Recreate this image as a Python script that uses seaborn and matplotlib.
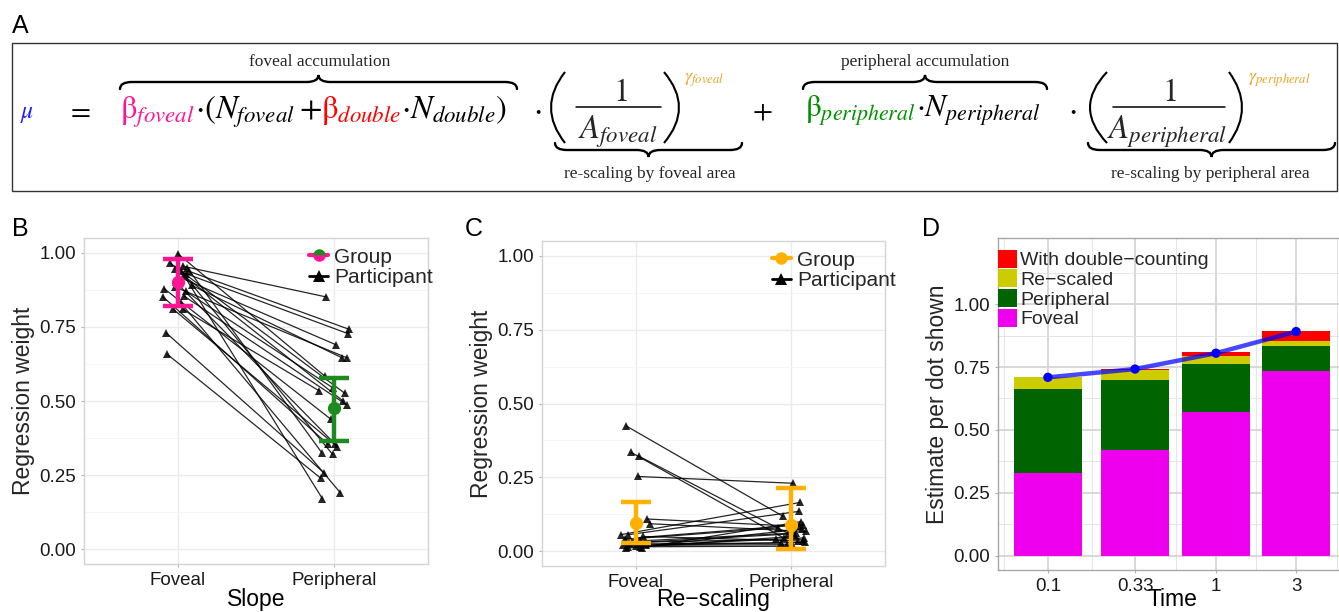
import numpy as np
import pandas as pd
import seaborn as sns
import matplotlib
matplotlib.use('Agg')
import matplotlib.pyplot as plt
from matplotlib.lines import Line2D
from matplotlib.patches import Rectangle, Patch, PathPatch
from matplotlib.path import Path
from matplotlib.ticker import FixedLocator, NullFormatter

# ---------------- data ----------------
conditions = ['Foveal', 'Peripheral']

# panel B: slopes per participant
slope_fov = [0.955, 0.938, 0.93, 0.92, 0.89, 0.885, 0.997, 0.81, 0.966, 0.947, 0.854,
             0.879, 0.852, 0.81, 0.95, 0.925, 0.90, 0.73, 0.657, 0.83, 0.94, 0.87]
slope_per = [0.851, 0.742, 0.727, 0.69, 0.645, 0.645, 0.584, 0.534, 0.526, 0.50, 0.487,
             0.438, 0.354, 0.346, 0.326, 0.32, 0.355, 0.258, 0.24, 0.19, 0.17, 0.545]
slope_fov_jit = [0.03, 0.07, 0.05, 0.0, 0.09, -0.02, 0.0, 0.03, -0.05, -0.02, 0.04,
                 -0.087, -0.096, -0.03, 0.06, 0.04, -0.01, -0.075, -0.066, 0.02, 0.02, 0.05]
slope_per_jit = [-0.05, 0.095, 0.09, 0.01, 0.053, 0.085, -0.06, -0.095, 0.068, 0.057, 0.08,
                 -0.02, -0.04, 0.02, -0.08, -0.01, 0.005, -0.066, -0.087, 0.04, -0.075, -0.01]
slope_mean = [0.90, 0.475]
slope_lo = [0.82, 0.365]
slope_hi = [0.98, 0.578]

# panel C: re-scaling per participant
resc_fov = [0.424, 0.335, 0.322, 0.253, 0.109, 0.093, 0.056, 0.056, 0.045, 0.04, 0.035,
            0.03, 0.025, 0.02, 0.015, 0.015, 0.01, 0.02, 0.012, 0.028, 0.05, 0.018]
resc_per = [0.118, 0.045, 0.034, 0.23, 0.084, 0.067, 0.165, 0.135, 0.09, 0.079, 0.062,
            0.04, 0.028, 0.022, 0.017, 0.05, 0.075, 0.03, 0.10, 0.058, 0.035, 0.045]
resc_fov_jit = [-0.06, -0.03, 0.02, 0.015, 0.075, 0.095, -0.095, -0.047, 0.0, -0.07, 0.03,
                -0.02, 0.06, -0.08, -0.05, 0.03, -0.06, 0.07, 0.04, -0.04, 0.05, 0.0]
resc_per_jit = [-0.053, -0.05, 0.075, 0.01, 0.05, 0.096, 0.053, 0.05, 0.075, -0.085, 0.03,
                -0.1, -0.07, -0.03, 0.01, 0.02, 0.07, 0.09, 0.06, -0.02, 0.04, 0.08]
resc_mean = [0.095, 0.09]
resc_lo = [0.028, 0.008]
resc_hi = [0.168, 0.213]

# panel D: estimate per dot shown
times = [0.1, 0.33, 1, 3]
time_labels = ['0.1', '0.33', '1', '3']
part_foveal = [0.328, 0.421, 0.570, 0.735]
part_peripheral = [0.334, 0.278, 0.193, 0.097]
part_rescaled = [0.047, 0.040, 0.032, 0.022]
part_double = [0.002, 0.003, 0.013, 0.040]
model_estimate = [0.709, 0.742, 0.805, 0.891]

PINK = '#ff1493'
GREEN = '#1e8b1e'
ORANGE = '#ffb000'
GAMMA = '#e8a020'

# ---------------- style ----------------
sns.set_theme(style='whitegrid')
plt.rcParams['font.family'] = ['Liberation Sans', 'DejaVu Sans']
plt.rcParams['mathtext.fontset'] = 'stix'

W, H = 1339, 612
fig = plt.figure(figsize=(W / 100, H / 100), dpi=100)
over = fig.add_axes([0, 0, 1, 1], zorder=-1)
over.set_xlim(0, W)
over.set_ylim(H, 0)
over.axis('off')


def px_axes(l, t, r, b):
    return fig.add_axes([l / W, (H - b) / H, (r - l) / W, (b - t) / H])


def style_panel(ax, grid_major='#ebebeb', grid_minor='#f5f5f5', spine='#d4d4d4'):
    ax.set_facecolor('white')
    for s in ax.spines.values():
        s.set_color(spine)
        s.set_linewidth(1.0)
    ax.grid(True, which='major', color=grid_major, lw=1.0)
    ax.grid(True, which='minor', color=grid_minor, lw=0.6)
    ax.tick_params(which='major', length=2.5, width=0.8, color='#b3b3b3',
                   labelsize=13.5, labelcolor='#1a1a1a', pad=3, bottom=True, left=True)
    ax.tick_params(which='minor', length=0, bottom=False, left=False)
    ax.set_axisbelow(True)


def bottom_title(ax, text):
    # axis title sits right at the lower edge of the figure, as in the source
    ax.set_xlabel('')
    pos = ax.get_position()
    over.text((pos.x0 + pos.width / 2) * W, 611, text, fontsize=16.5,
              ha='center', va='bottom', color='black')


def participant_panel(ax, fov, per, fj, pj, mean, lo, hi, cols, xlabel):
    n = len(fov)
    df = pd.DataFrame({
        'pid': list(range(n)) * 2,
        'x': [0 + j for j in fj] + [1 + j for j in pj],
        'value': list(fov) + list(per),
    })
    sns.lineplot(data=df, x='x', y='value', units='pid', estimator=None, sort=False,
                 color='black', lw=0.9, alpha=0.85, marker='^', markersize=5.5,
                 markeredgewidth=0, ax=ax, legend=False)
    for i in range(2):
        ax.errorbar([i], [mean[i]], yerr=[[mean[i] - lo[i]], [hi[i] - mean[i]]],
                    fmt='o', color=cols[i], ms=8.5, elinewidth=3.2, capsize=11,
                    capthick=3.2, zorder=5)
    ax.set_xlim(-0.6, 1.6)
    ax.set_ylim(-0.05, 1.05)
    ax.set_xticks([0, 1])
    ax.set_xticklabels(conditions)
    ax.set_yticks([0, 0.25, 0.5, 0.75, 1.0])
    ax.set_yticklabels(['0.00', '0.25', '0.50', '0.75', '1.00'])
    ax.yaxis.set_minor_locator(FixedLocator([0.125, 0.375, 0.625, 0.875]))
    ax.set_ylabel('Regression weight', fontsize=16.5, labelpad=3)
    style_panel(ax)
    bottom_title(ax, xlabel)


# ---------------- panel B ----------------
axB = px_axes(84, 238, 428, 564)
participant_panel(axB, slope_fov, slope_per, slope_fov_jit, slope_per_jit,
                  slope_mean, slope_lo, slope_hi, [PINK, GREEN], 'Slope')
hB = [Line2D([], [], color=PINK, lw=3, marker='o', ms=9, markeredgewidth=0,
             markerfacecolor=GREEN, markerfacecoloralt=PINK, fillstyle='top'),
      Line2D([], [], color='black', lw=2, marker='^', ms=9, markeredgewidth=0)]
axB.legend(hB, ['Group', 'Participant'], loc='upper left', bbox_to_anchor=(0.655, 0.97),
           frameon=False, fontsize=15, handlelength=0.9, handletextpad=0.3,
           labelspacing=0.05, borderpad=0, borderaxespad=0)

# ---------------- panel C ----------------
axC = px_axes(542, 241, 885, 566)
participant_panel(axC, resc_fov, resc_per, resc_fov_jit, resc_per_jit,
                  resc_mean, resc_lo, resc_hi, [ORANGE, ORANGE], 'Re\u2212scaling')
hC = [Line2D([], [], color=ORANGE, lw=3, marker='o', ms=9, markeredgewidth=0),
      Line2D([], [], color='black', lw=2, marker='^', ms=9, markeredgewidth=0)]
axC.legend(hC, ['Group', 'Participant'], loc='upper left', bbox_to_anchor=(0.67, 0.97),
           frameon=False, fontsize=15, handlelength=0.9, handletextpad=0.3,
           labelspacing=0.05, borderpad=0, borderaxespad=0)

# ---------------- panel D ----------------
axD = px_axes(998, 238, 1346, 570)
axD.set_xscale('log')
t = np.array(times, dtype=float)
hw = 0.2025
left = t * 10 ** (-hw)
width = t * (10 ** hw - 10 ** (-hw))
bottom = np.zeros(len(t))
layers = [(part_foveal, '#ee00ee', 'Foveal'),
          (part_peripheral, '#006400', 'Peripheral'),
          (part_rescaled, '#cccc00', 'Re\u2212scaled'),
          (part_double, '#ff0000', 'With double\u2212counting')]
for vals, col, lab in layers:
    axD.bar(left, vals, width=width, bottom=bottom, align='edge', color=col, lw=0)
    bottom = bottom + np.array(vals)
dD = pd.DataFrame({'time': times, 'est': model_estimate})
sns.lineplot(data=dD, x='time', y='est', color='#0000ff', lw=3.2, alpha=0.72, ax=axD)
sns.scatterplot(data=dD, x='time', y='est', color='#0000ff', s=45, edgecolor='none',
                ax=axD, zorder=6)
axD.set_xlim(10 ** -1.297, 10 ** 0.774)
axD.set_ylim(-0.057, 1.263)
axD.set_xticks(times)
axD.set_xticklabels(time_labels)
axD.xaxis.set_minor_locator(FixedLocator([10 ** v for v in [-1.26, -0.74, -0.24, 0.24, 0.72]]))
axD.xaxis.set_minor_formatter(NullFormatter())
axD.set_yticks([0, 0.25, 0.5, 0.75, 1.0])
axD.set_yticklabels(['0.00', '0.25', '0.50', '0.75', '1.00'])
axD.yaxis.set_minor_locator(FixedLocator([0.125, 0.375, 0.625, 0.875, 1.125]))
style_panel(axD, grid_major='#d6d6d6', grid_minor='#e0e0e0', spine='#a8a8a8')
axD.grid(True, which='major', color='#d6d6d6', lw=1.3)
axD.set_xlabel('')
axD.set_ylabel('Estimate per dot shown', fontsize=16.5, labelpad=3)
over.text(1172, 611, 'Time', fontsize=16.5, ha='center', va='bottom', color='black')
hD = [Patch(facecolor=c, edgecolor='none') for _, c, _ in layers][::-1]
axD.legend(hD, [l for _, _, l in layers][::-1], loc='upper left', bbox_to_anchor=(0.0, 0.965),
           frameon=False, fontsize=14, handlelength=1.0, handleheight=1.05,
           handletextpad=0.15, labelspacing=0.0, borderpad=0, borderaxespad=0)

# ---------------- panel letters ----------------
for lab, x, y in [('A', 12, 26), ('B', 12, 229), ('C', 465, 229), ('D', 922, 229)]:
    over.text(x, y, lab, fontsize=18, ha='left', va='center', color='black')

# ---------------- panel A: equation ----------------
over.add_patch(Rectangle((12, 43), 1325, 148, fill=False, edgecolor='#333333', lw=1.0))
renderer = fig.canvas.get_renderer()


def flow(x, y, pieces, size):
    for s, c in pieces:
        tx = over.text(x, y, s, color=c, fontsize=size, ha='left', va='baseline')
        x += tx.get_window_extent(renderer=renderer).width
    return x


def brace(x0, x1, y, up=True, h=7, q=12):
    s = -1 if up else 1
    xm = (x0 + x1) / 2
    verts = [(x0, y - s * h), (x0, y), (x0 + q, y), (xm - q, y), (xm, y), (xm, y + s * h),
             (xm, y), (xm + q, y), (x1 - q, y), (x1, y), (x1, y - s * h)]
    codes = [Path.MOVETO, Path.CURVE3, Path.CURVE3, Path.LINETO, Path.CURVE3, Path.CURVE3,
             Path.CURVE3, Path.CURVE3, Path.LINETO, Path.CURVE3, Path.CURVE3]
    over.add_patch(PathPatch(Path(verts, codes), fill=False, lw=1.7, edgecolor='black',
                             capstyle='round'))


def paren(x_end, x_mid, top=72, bot=143):
    c = 2 * x_mid - x_end
    verts = [(x_end, top), (c, (top + bot) / 2), (x_end, bot)]
    over.add_patch(PathPatch(Path(verts, [Path.MOVETO, Path.CURVE3, Path.CURVE3]),
                             fill=False, lw=1.5, edgecolor='black'))


def fraction(lp, rp, bar0, bar1, num_x, den_x, den):
    paren(*lp)
    paren(*rp)
    over.text(num_x, 101, r'$1$', fontsize=EQ, ha='center', va='baseline')
    over.plot([bar0, bar1], [107, 107], color='black', lw=1.1)
    over.text(den_x, 138, den, fontsize=EQ, ha='center', va='baseline')


serif = 'Liberation Serif'
EQ = 23.5
base = 118
flow(20, base, [(r'$\mu$', '#1a1aff')], 17)
flow(66, base, [(r'$=$', 'black')], 21)
flow(120, base, [(r'$\mathrm{\beta}_{foveal}$', PINK), (r'$\cdot(N_{foveal}+$', 'black'),
                 (r'$\mathrm{\beta}_{double}$', '#ff0000'), (r'$\cdot N_{double})$', 'black')], EQ)
flow(533, base, [(r'$\cdot$', 'black')], EQ)
fraction((565, 551), (664, 679), 576, 661, 620, 618, r'$A_{foveal}$')
over.text(684, 80, r'$\gamma_{foveal}$', fontsize=13, color=GAMMA, ha='left', va='center')
flow(752, base, [(r'$+$', 'black')], 21)
flow(805, base, [(r'$\mathrm{\beta}_{peripheral}$', '#009000'), (r'$\cdot N_{peripheral}$', 'black')], 22.5)
flow(1068, base, [(r'$\cdot$', 'black')], EQ)
fraction((1107, 1090), (1229, 1242), 1113, 1225, 1169, 1167, r'$A_{peripheral}$')
over.text(1248, 80, r'$\gamma_{peripheral}$', fontsize=13, color=GAMMA, ha='left', va='center')

brace(120, 517, 82, up=True)
brace(803, 1047, 82, up=True)
brace(555, 742, 150, up=False)
brace(1088, 1335, 150, up=False)
over.text(320, 62, 'foveal accumulation', family=serif, fontsize=12.5, ha='center', va='center')
over.text(925, 62, 'peripheral accumulation', family=serif, fontsize=12.5, ha='center', va='center')
over.text(650, 174, 're-scaling by foveal area', family=serif, fontsize=12.5, ha='center', va='center')
over.text(1210, 174, 're-scaling by peripheral area', family=serif, fontsize=12.5, ha='center', va='center')

fig.savefig('out.png', dpi=100)
